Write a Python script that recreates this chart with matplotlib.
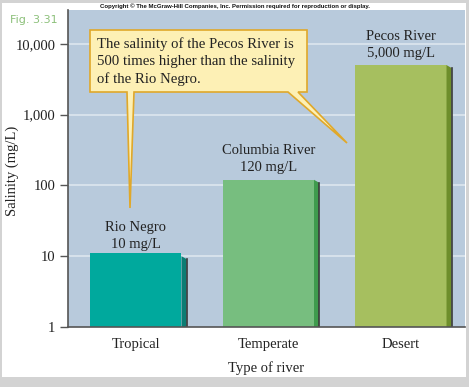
import matplotlib
matplotlib.use("Agg")
import matplotlib.pyplot as plt
from matplotlib.patches import Rectangle, Polygon
from matplotlib.transforms import Affine2D

# data
river_types = ["Tropical", "Temperate", "Desert"]
river_names = ["Rio Negro", "Columbia River", "Pecos River"]
salinity = [10, 120, 5000]
value_labels = ["10 mg/L", "120 mg/L", "5,000 mg/L"]
yticks = [1, 10, 100, 1000, 10000]
ytick_labels = ["1", "10", "100", "1,000", "10,000"]

bar_colors = ["#00a99d", "#77be7f", "#a6bf5f"]
side_colors = ["#0c7d74", "#3f9b4d", "#6e8e2b"]

W, H = 469, 387
plt.rcParams["font.family"] = ["Liberation Serif", "DejaVu Serif"]

fig = plt.figure(figsize=(W / 100, H / 100), dpi=100, facecolor="#d3d3d3")
# pixel coords, y pointing down
px = Affine2D().scale(1 / W, -1 / H).translate(0, 1) + fig.transFigure

fig.patches.append(Rectangle((2, 3), 464, 374, transform=px,
                             facecolor="white", edgecolor="none", zorder=-1))

ax = fig.add_axes([68 / W, (H - 327) / H, (465 - 68) / W, (327 - 10) / H])
ax.set_facecolor("#b8cadc")
ax.set_yscale("log")
ax.set_ylim(1, 30000)
ax.set_xlim(-0.513, 2.483)

for y in yticks[1:]:
    ax.axhline(y, color="#dde6ef", lw=1.2, zorder=1)

x = list(range(len(salinity)))
bw = 0.687
ax.bar(x, salinity, width=bw, bottom=1, color=bar_colors, zorder=2)

# 3D side face of each bar
dx = 0.038
for xi, v, sc in zip(x, salinity, side_colors):
    xr = xi + bw / 2
    ax.add_patch(Polygon([(xr, 1), (xr, v), (xr + dx, v * 0.91), (xr + dx, 1)],
                         closed=True, facecolor=sc, edgecolor="none", zorder=2))
    ax.plot([xr + dx, xr + dx], [1, v * 0.91], color="#3a3a3a", lw=1.2, zorder=2)

for xi, v, name, lab in zip(x, salinity, river_names, value_labels):
    ax.annotate(f"{name}\n{lab}", xy=(xi, v), xytext=(0, 4),
                textcoords="offset points", ha="center", va="bottom",
                fontsize=10.5, color="#222222", linespacing=1.38)

ax.set_yticks(yticks)
ax.set_yticklabels(ytick_labels)
ax.minorticks_off()
ax.set_xticks(x)
ax.set_xticklabels(river_types)
ax.tick_params(axis="y", length=6, width=1, color="#555555", labelsize=10.5,
               labelcolor="#222222", pad=3)
ax.tick_params(axis="x", length=0, labelsize=10.5, labelcolor="#222222", pad=8)
for s in ["top", "right"]:
    ax.spines[s].set_visible(False)
for s in ["left", "bottom"]:
    ax.spines[s].set_color("#555555")
    ax.spines[s].set_linewidth(1.2)

ax.set_ylabel("Salinity (mg/L)", fontsize=10.5, color="#222222")
ax.yaxis.set_label_coords(-0.124, 0.492)
ax.set_xlabel("Type of river", fontsize=10.5, color="#222222", labelpad=7)

# callout box with two pointers
callout = [(90, 30), (307, 30), (307, 92), (298, 92), (347, 143), (288, 92),
           (134, 92), (130, 208), (127, 92), (90, 92)]
fig.patches.append(Polygon(callout, closed=True, transform=px,
                           facecolor="#fdf0b5", edgecolor="#e0a82a", lw=1.2, zorder=5))
fig.text(97 / W, 1 - 37 / H,
         "The salinity of the Pecos River is\n500 times higher than the salinity\nof the Rio Negro.",
         ha="left", va="top", fontsize=10.6, color="#222222", linespacing=1.4, zorder=6)

fig.text(10 / W, 1 - 20 / H, "Fig. 3.31", fontsize=8, color="#8cc07a",
         family=["DejaVu Sans"], va="center")
fig.text(235 / W, 1 - 6 / H,
         "Copyright \u00a9 The McGraw-Hill Companies, Inc. Permission required for reproduction or display.",
         fontsize=4.3, fontweight="bold", family=["Liberation Sans", "DejaVu Sans"],
         ha="center", va="center", color="#111111")

fig.savefig("out.png", dpi=100, facecolor=fig.get_facecolor())
